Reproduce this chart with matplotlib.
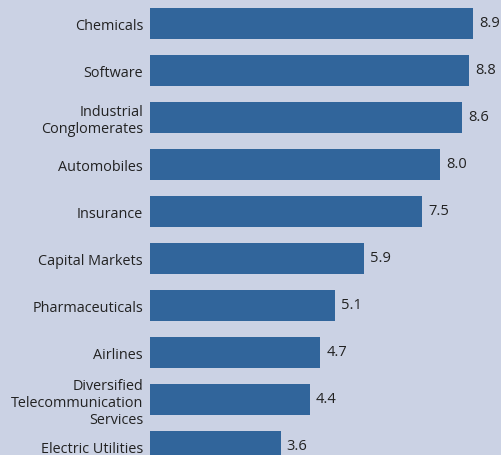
import matplotlib
matplotlib.use("Agg")
import matplotlib.pyplot as plt

categories = ["Chemicals", "Software", "Industrial\nConglomerates", "Automobiles",
              "Insurance", "Capital Markets", "Pharmaceuticals", "Airlines",
              "Diversified\nTelecommunication\nServices", "Electric Utilities"]
values = [8.9, 8.8, 8.6, 8.0, 7.5, 5.9, 5.1, 4.7, 4.4, 3.6]

bg = "#cbd2e4"
bar_color = "#31659b"
text_color = "#222222"

plt.rcParams['font.family'] = ['Open Sans', 'DejaVu Sans']

fig = plt.figure(figsize=(5.01, 4.56), dpi=100, facecolor=bg)
ax = fig.add_axes([150/501, 0, 351/501, 1])
ax.set_facecolor(bg)

y = list(range(len(categories)))
ax.barh(y, values, height=0.66, color=bar_color)
ax.set_xlim(0, 351/36.26)
ax.set_ylim((456-24.5)/47, -24.5/47)

for yi, v in zip(y, values):
    ax.text(v + 0.17, yi - 0.02, f"{v:.1f}", va="center", ha="left", fontsize=10.5, color=text_color)

ax.set_yticks(y)
ax.set_yticklabels(categories, fontsize=10.4, color=text_color, linespacing=1.18)
ax.tick_params(axis="y", length=0, pad=5)
for lbl in ax.get_yticklabels():
    lbl.set_y(lbl.get_position()[1])
ax.set_xticks([])
for s in ax.spines.values():
    s.set_visible(False)

fig.savefig("out.png", dpi=100, facecolor=bg)
